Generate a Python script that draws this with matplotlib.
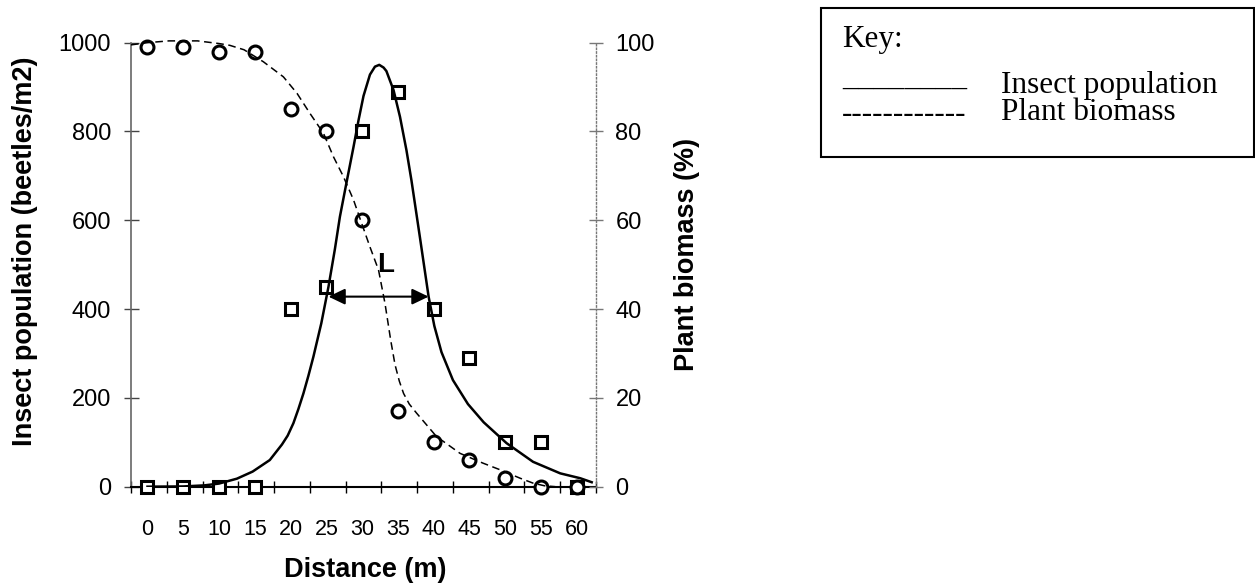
import matplotlib.pyplot as plt
from matplotlib.patches import Rectangle

# measured points
distance = [0, 5, 10, 15, 20, 25, 30, 35, 40, 45, 50, 55, 60]
insect_pop = [0, 0, 0, 0, 400, 450, 800, 890, 400, 290, 100, 100, 0]
plant_biomass = [99, 99, 98, 98, 85, 80, 60, 17, 10, 6, 2, 0, 0]

# fitted curves
insect_fit_x = [0, 5, 8, 10, 12.5, 14.7, 17.1, 18.8, 19.6, 20.4, 21.1, 21.8, 22.5,
                23.2, 24.3, 25.3, 26.2, 26.9, 27.8, 28.8, 29.5, 30.2, 31.1, 31.8,
                32.4, 33.0, 33.4, 34.4, 35.3, 36.2, 36.9, 37.5, 38.1, 39.3, 40.1,
                41.1, 42.7, 44.8, 47.0, 50.2, 53.9, 57.7, 60.5, 62.1]
insect_fit_y = [0, 0.5, 3, 7, 18, 34, 60, 95, 115, 143, 175, 210, 250,
                293, 368, 450, 535, 608, 683, 765, 825, 880, 928, 946,
                950, 944, 936, 893, 833, 758, 690, 625, 560, 428, 362,
                303, 240, 186, 145, 98, 56, 30, 19, 10]
plant_fit_x = [-2.3, 0, 3, 7, 10, 11.5, 13.5, 16.2, 19.0, 20.9, 22.7, 24.6, 26.0,
               27.4, 28.8, 29.9, 31.1, 32.3, 33.2, 34.0, 34.6, 35.2, 35.8, 36.6,
               37.6, 40.4, 43.7, 46.9, 49.3, 52.1, 53.9, 55.5, 57]
plant_fit_y = [99.5, 100.0, 100.4, 100.4, 99.8, 99.4, 98.4, 95.7, 92.3, 88.6, 84.1,
               79.6, 74.3, 69.8, 64.6, 59.5, 54.0, 48.8, 41.3, 33.0, 27.5, 23.8,
               21.0, 18.6, 16.6, 11.3, 7.5, 5.3, 3.8, 1.9, 0.8, 0.2, 0]

# width "L" arrow and its letter
L_start, L_end, L_level = 25.3, 39.3, 428
L_text_x, L_text_y = 33.3, 499

sans = 'Liberation Sans'
serif = 'Liberation Serif'

fig = plt.figure(figsize=(12.55, 5.86), dpi=100)
ax = fig.add_axes([0.1044, 0.1695, 0.3705, 0.7577])
ax2 = ax.twinx()

ax.plot(distance, insect_pop, linestyle='none', marker='s', markersize=8.6,
        markerfacecolor='white', markeredgecolor='black', markeredgewidth=2.2,
        zorder=3, clip_on=False)
ax.plot(insect_fit_x, insect_fit_y, color='black', linewidth=1.8, zorder=4,
        solid_joinstyle='round')

ax2.plot(distance, plant_biomass, linestyle='none', marker='o', markersize=9.3,
         markerfacecolor='white', markeredgecolor='black', markeredgewidth=2.2,
         zorder=3, clip_on=False)
ax2.plot(plant_fit_x, plant_fit_y, color='black', linewidth=1.1,
         dashes=(5, 3), zorder=4, clip_on=False)

ax.annotate('', xy=(L_start, L_level), xytext=(L_end, L_level),
            arrowprops=dict(arrowstyle='<|-|>,head_length=0.5,head_width=0.24',
                            mutation_scale=20, color='black', lw=1.5,
                            shrinkA=0, shrinkB=0), zorder=5)
ax.text(L_text_x, L_text_y, 'L', ha='center', va='center',
        fontsize=20, fontweight='bold', family=sans)

ax.set_xlim(-2.3, 62.7)
ax.set_ylim(0, 1000)
ax2.set_ylim(0, 100)

# labels sit on the data points, tick marks are offset like the original
ax.set_xticks(distance)
ax.set_xticklabels([str(d) for d in distance], family=sans, fontsize=15.5)
ax.set_xticks([-2.3 + 5 * k for k in range(14)], minor=True)
ax.tick_params(axis='x', which='major', length=0, pad=23.5)
ax.tick_params(axis='x', which='minor', direction='inout', length=9, width=1)

ax.set_yticks(range(0, 1001, 200))
ax.set_yticklabels([str(v) for v in range(0, 1001, 200)], family=sans, fontsize=17)
ax.tick_params(axis='y', direction='inout', length=10.8, width=1, pad=9, color='#444444')

ax2.set_yticks(range(0, 101, 20))
ax2.set_yticklabels([str(v) for v in range(0, 101, 20)], family=sans, fontsize=17)
ax2.tick_params(axis='y', direction='inout', length=10, width=1, pad=9, color='#777777')

for s in ['top', 'right']:
    ax.spines[s].set_visible(False)
ax.spines['left'].set_color('#666666')
ax.spines['left'].set_linewidth(1.2)
ax.spines['bottom'].set_color('black')
ax.spines['bottom'].set_linewidth(1.5)
for s in ['top', 'left', 'bottom']:
    ax2.spines[s].set_visible(False)
ax2.spines['right'].set_color('#777777')
ax2.spines['right'].set_linestyle(':')
ax2.spines['right'].set_linewidth(1.0)

ax.set_xlabel('Distance (m)', family=sans, fontsize=19.5, fontweight='bold')
ax.xaxis.set_label_coords(0.503, -0.158)
ax.set_ylabel('Insect population (beetles/m2)', family=sans, fontsize=19.5,
              fontweight='bold')
ax.yaxis.set_label_coords(-0.2, 0.53)
ax2.set_ylabel('Plant biomass (%)', family=sans, fontsize=19.5, fontweight='bold')
ax2.yaxis.set_label_coords(1.168, 0.522)

# key box
fig.patches.append(Rectangle((0.654, 0.732), 0.345, 0.254, transform=fig.transFigure,
                             fill=False, edgecolor='black', linewidth=1.5))
fig.text(0.671, 0.920, 'Key:', family=serif, fontsize=22.5, va='baseline')
fig.text(0.671, 0.856, '_' * 8, family=serif, fontsize=22.5, va='baseline')
fig.text(0.798, 0.841, 'Insect population', family=serif, fontsize=22.5, va='baseline')
fig.text(0.671, 0.792, '-' * 12, family=serif, fontsize=22.5, va='baseline')
fig.text(0.798, 0.795, 'Plant biomass', family=serif, fontsize=22.5, va='baseline')

fig.savefig('out.png', dpi=100)
